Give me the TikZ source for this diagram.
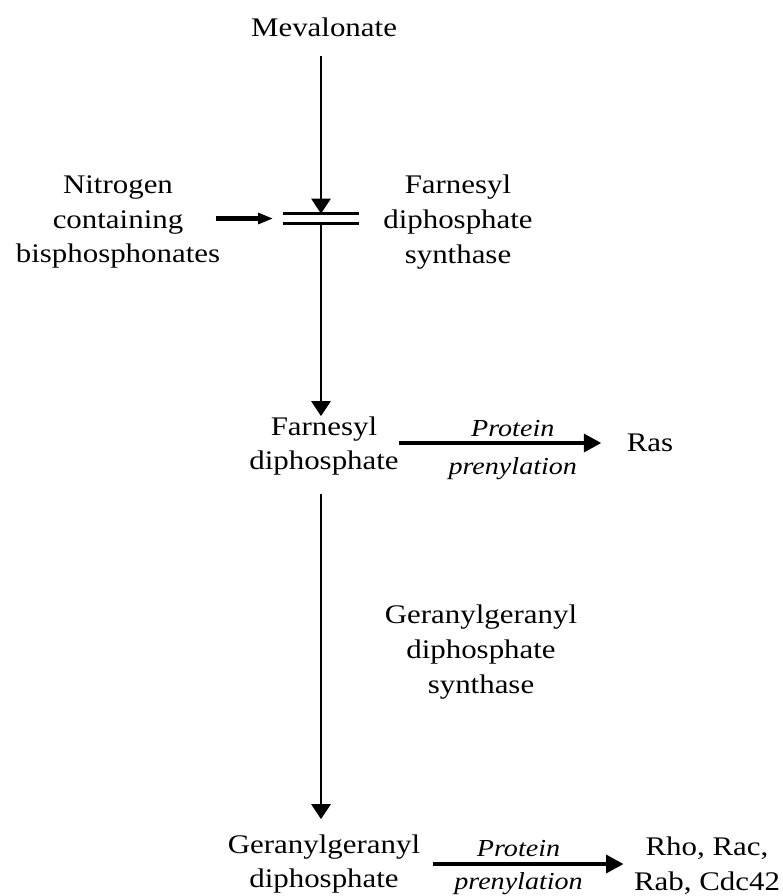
\documentclass[tikz,border=0pt]{standalone}
\usepackage{fontspec}
\setmainfont[FakeStretch=1.15]{Liberation Serif}
\usetikzlibrary{arrows.meta}

\begin{document}
\begin{tikzpicture}[x=0.02cm, y=-0.02cm,
    txt/.style={align=center, inner sep=0pt, font=\fontsize{15.3}{19.7}\selectfont},
    lbl/.style={inner sep=0pt, font=\fontsize{13.9}{16}\selectfont\itshape},
    flow/.style={line width=1.5pt, -{Triangle[length=8.5pt, width=10.8pt]}},
    push/.style={line width=2.8pt, -{Triangle[length=8.5pt, width=6pt]}},
    prot/.style={line width=2.7pt, -{Triangle[length=10pt, width=10pt]}},
    bar/.style={line width=1.7pt}]
    \useasboundingbox (0,0) rectangle (782,896);

    \node[txt] at (324, 27.5) (meva) {Mevalonate};
    \node[inner sep=0pt, minimum width=1.5cm, minimum height=0.18cm] at (321, 218.5) (blk) {};
    \node[txt] at (118, 222) (nbp) {Nitrogen\\containing\\bisphosphonates};
    \node[txt] at (458, 222) (fpps) {Farnesyl\\diphosphate\\synthase};
    \node[txt] at (324, 446) (fpp) {Farnesyl\\diphosphate};
    \node[txt] at (650, 443) (ras) {Ras};
    \node[txt] at (481, 652) (ggpps) {Geranylgeranyl\\diphosphate\\synthase};
    \node[txt] at (324, 864) (ggpp) {Geranylgeranyl\\diphosphate};
    \node[txt] at (707, 866) (rho) {Rho, Rac,\\Rab, Cdc42};

    % block by the bisphosphonates
    \draw[bar] (blk.north west) -- (blk.north east);
    \draw[bar] (blk.south west) -- (blk.south east);
    \draw[push] ([xshift=-0.1cm]nbp.east |- blk.west) -- ([xshift=-0.2cm]blk.west);

    % main pathway
    \draw[flow, shorten <=0.38cm] (meva.south -| blk.north) -- (blk.north);
    \draw[flow] (blk.south) -- (fpp.north -| blk.south);
    \draw[flow, shorten <=0.36cm, shorten >=0.3cm] (fpp.south -| blk.south) -- (ggpp.north -| blk.south);

    % prenylation
    \draw[prot, shorten >=0.5cm] (fpp.east |- ras.west) -- (ras.west)
        node[lbl, pos=0.5, above=0.08cm] (p1) {Protein}
        node[lbl, pos=0.5, below=0.24cm] (q1) {prenylation};
    \draw[prot, shorten <=0.26cm, shorten >=0.2cm] (ggpp.east) -- (ggpp.east -| rho.west)
        node[lbl, pos=0.46, above=0.1cm] (p2) {Protein}
        node[lbl, pos=0.46, below=0.13cm] (q2) {prenylation};
\end{tikzpicture}
\end{document}
